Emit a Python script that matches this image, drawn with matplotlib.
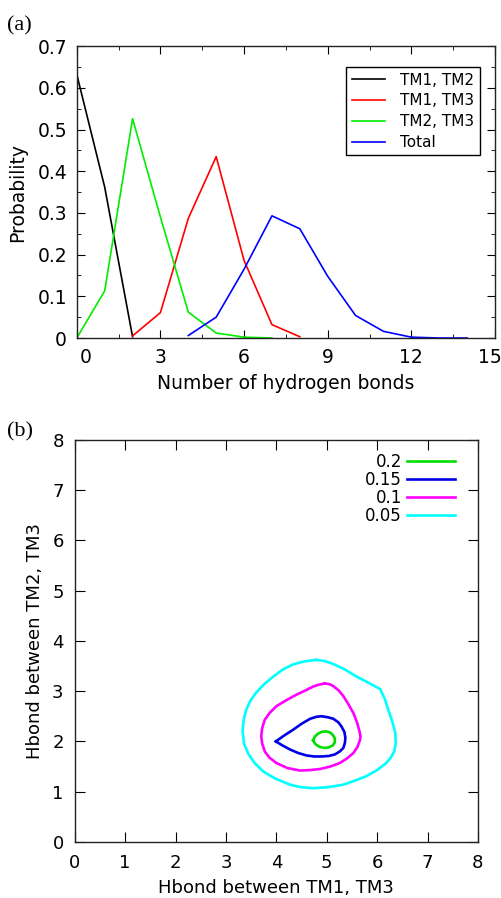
import matplotlib.pyplot as plt
import matplotlib.transforms as mtransforms
import numpy as np

# (a) probability of number of hydrogen bonds
hb_tm12 = np.array([0, 1, 2])
p_tm12 = np.array([0.632, 0.362, 0.003])

hb_tm13 = np.array([2, 3, 4, 5, 6, 7, 8])
p_tm13 = np.array([0.005, 0.061, 0.287, 0.435, 0.186, 0.032, 0.003])

hb_tm23 = np.array([0, 1, 2, 3, 4, 5, 6, 7])
p_tm23 = np.array([0.0, 0.113, 0.526, 0.29, 0.062, 0.012, 0.002, 0.0])

hb_total = np.array([4, 5, 6, 7, 8, 9, 10, 11, 12, 13, 14])
p_total = np.array([0.006, 0.05, 0.165, 0.293, 0.262, 0.148, 0.054, 0.016, 0.002, 0.0, 0.0])

# (b) contour lines of joint probability, (TM1-TM3, TM2-TM3)
levels = ["0.2", "0.15", "0.1", "0.05"]
c020_x = [4.73, 4.76, 4.82, 4.90, 4.98, 5.06, 5.12, 5.16, 5.16, 5.12, 5.04, 4.95, 4.86, 4.78, 4.73]
c020_y = [2.02, 2.09, 2.15, 2.19, 2.20, 2.18, 2.13, 2.06, 1.98, 1.92, 1.88, 1.87, 1.89, 1.94, 2.02]
c015_x = [3.99, 4.16, 4.33, 4.50, 4.67, 4.80, 4.90, 5.02, 5.13, 5.23, 5.29, 5.35, 5.37, 5.36, 5.33, 5.26, 5.16, 5.04, 4.90, 4.75, 4.60, 4.43, 4.27, 4.12, 3.99]
c015_y = [2.00, 2.12, 2.23, 2.35, 2.45, 2.49, 2.50, 2.48, 2.45, 2.38, 2.30, 2.19, 2.07, 1.97, 1.87, 1.80, 1.74, 1.71, 1.70, 1.70, 1.72, 1.77, 1.84, 1.92, 2.00]
c010_x = [4.96, 5.05, 5.13, 5.24, 5.33, 5.43, 5.53, 5.60, 5.65, 5.67, 5.66, 5.61, 5.53, 5.40, 5.26, 5.07, 4.86, 4.67, 4.47, 4.22, 4.00, 3.86, 3.77, 3.72, 3.70, 3.72, 3.77, 3.87, 4.00, 4.20, 4.40, 4.57, 4.73, 4.85, 4.96]
c010_y = [3.15, 3.14, 3.10, 3.01, 2.90, 2.74, 2.56, 2.38, 2.20, 2.10, 2.03, 1.89, 1.77, 1.66, 1.57, 1.50, 1.45, 1.43, 1.42, 1.47, 1.57, 1.68, 1.80, 1.95, 2.10, 2.27, 2.43, 2.57, 2.70, 2.82, 2.93, 3.01, 3.09, 3.13, 3.15]
c005_x = [4.78, 4.95, 5.13, 5.36, 5.59, 5.82, 6.06, 6.15, 6.22, 6.30, 6.36, 6.37, 6.34, 6.26, 6.17, 6.00, 5.79, 5.56, 5.33, 5.03, 4.73, 4.48, 4.27, 3.98, 3.74, 3.57, 3.45, 3.36, 3.33, 3.35, 3.40, 3.48, 3.59, 3.76, 3.94, 4.13, 4.33, 4.55, 4.78]
c005_y = [3.62, 3.60, 3.54, 3.43, 3.29, 3.17, 3.04, 2.85, 2.63, 2.40, 2.17, 1.97, 1.80, 1.66, 1.56, 1.43, 1.31, 1.22, 1.14, 1.09, 1.07, 1.09, 1.14, 1.26, 1.40, 1.57, 1.74, 1.95, 2.20, 2.42, 2.62, 2.80, 2.96, 3.14, 3.29, 3.43, 3.53, 3.59, 3.62]

plt.rcParams["font.family"] = "DejaVu Sans"

fig = plt.figure(figsize=(5.02, 8.98), dpi=100)

# ---- panel (a)
ax1 = fig.add_axes([0.153, 0.6236, 0.833, 0.325])
ax1.plot(hb_tm12, p_tm12, color="black", lw=1.2, label="TM1, TM2")
ax1.plot(hb_tm13, p_tm13, color="#ff0000", lw=1.2, label="TM1, TM3")
ax1.plot(hb_tm23, p_tm23, color="#00ee00", lw=1.2, label="TM2, TM3")
ax1.plot(hb_total, p_total, color="#0000ff", lw=1.2, label="Total")
ax1.set_xlim(0, 15)
ax1.set_ylim(0, 0.7)
ax1.set_xticks(np.arange(0, 16, 3))
ax1.set_xticks(np.arange(0, 15.1, 1.5), minor=True)
ax1.set_yticks(np.arange(0, 0.71, 0.1))
ax1.set_yticks(np.arange(0, 0.71, 0.05), minor=True)
ax1.set_yticklabels(["0", "0.1", "0.2", "0.3", "0.4", "0.5", "0.6", "0.7"])
ax1.tick_params(which="both", direction="in", top=True, right=True, labelsize=13.5)
ax1.tick_params(which="major", length=5.5, pad=7)
ax1.tick_params(which="minor", length=3)
ax1.set_xlabel("Number of hydrogen bonds", fontsize=13.5, labelpad=5)
ax1.set_ylabel("Probability", fontsize=13.5, labelpad=7)
# end labels sit a little inside the axis corners in the original
xlabs = ax1.get_xticklabels()
xlabs[0].set_transform(xlabs[0].get_transform() + mtransforms.ScaledTranslation(0.09, 0, fig.dpi_scale_trans))
xlabs[-1].set_transform(xlabs[-1].get_transform() + mtransforms.ScaledTranslation(-0.05, 0, fig.dpi_scale_trans))
leg1 = ax1.legend(loc="upper right", bbox_to_anchor=(0.964, 0.928), borderaxespad=0, fontsize=11,
                  handlelength=2.2, handletextpad=1.0, borderpad=0.35, labelspacing=0.38,
                  fancybox=False, framealpha=1)
leg1.get_frame().set_edgecolor("black")
leg1.get_frame().set_linewidth(1.0)
fig.text(0.014, 0.966, "(a)", fontsize=16, family="Liberation Serif")

# ---- panel (b)
ax2 = fig.add_axes([0.149, 0.0624, 0.803, 0.448])
ax2.plot(c020_x, c020_y, color="#00dd00", lw=1.9, label=levels[0], solid_joinstyle="round")
ax2.plot(c015_x, c015_y, color="#0000e6", lw=1.9, label=levels[1], solid_joinstyle="round")
ax2.plot(c010_x, c010_y, color="#ff00ff", lw=1.9, label=levels[2], solid_joinstyle="round")
ax2.plot(c005_x, c005_y, color="#00ffff", lw=1.9, label=levels[3], solid_joinstyle="round")
ax2.set_xlim(0, 8)
ax2.set_ylim(0, 8)
ax2.set_xticks(range(9))
ax2.set_yticks(range(9))
ax2.tick_params(direction="in", top=True, right=True, labelsize=13, length=7.5)
ax2.tick_params(axis="x", pad=9)
ax2.tick_params(axis="y", pad=8)
ax2.set_xlabel("Hbond between TM1, TM3", fontsize=13, labelpad=5)
ax2.set_ylabel("Hbond between TM2, TM3", fontsize=13, labelpad=6)
leg2 = ax2.legend(loc="upper right", bbox_to_anchor=(0.944, 0.968), borderaxespad=0, frameon=False,
                  markerfirst=False, fontsize=12, handlelength=2.9, handletextpad=0.3,
                  labelspacing=0.0, borderpad=0.0)
for t in leg2.get_texts():
    t.set_ha("right")
fig.text(0.014, 0.514, "(b)", fontsize=16, family="Liberation Serif")

for ax in (ax1, ax2):
    for s in ax.spines.values():
        s.set_linewidth(1.0)
        s.set_color("#222222")

fig.savefig("out.png", dpi=100)
